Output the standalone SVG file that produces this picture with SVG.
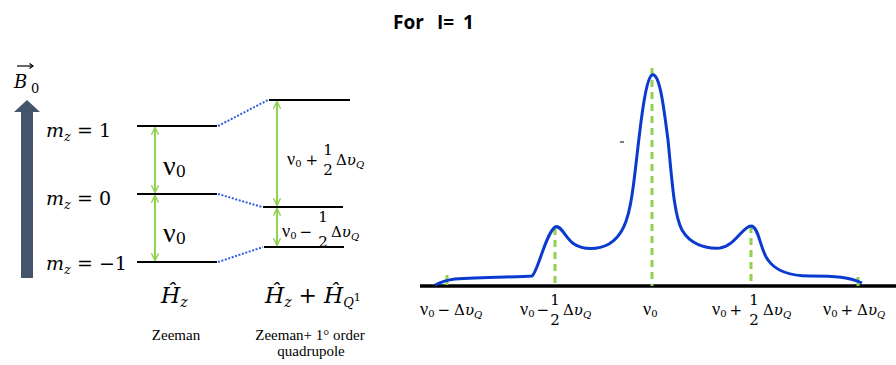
<svg xmlns="http://www.w3.org/2000/svg" width="896" height="365" viewBox="0 0 896 365">
<style>
.lvl{stroke:#000;stroke-width:2;fill:none}
.dot{stroke:#2F5FE0;stroke-width:2;stroke-dasharray:2,1.6;fill:none}
.garr{stroke:#92D050;stroke-width:2;fill:none}
.gdash{stroke:#92D050;stroke-width:3;stroke-dasharray:7,5;fill:none}
.math{font-family:"DejaVu Serif","Liberation Serif",serif;fill:#000}
.it{font-style:italic}
.lab{font-family:"DejaVu Serif","Liberation Serif",serif;font-size:15px;fill:#000}
.nu{font-family:"Liberation Serif","DejaVu Serif",serif;font-size:18px}
.cap{font-family:"Liberation Serif","DejaVu Serif",serif;font-size:15px;fill:#000}
</style>
<defs>
<marker id="chev" viewBox="0 0 10 10" refX="9" refY="5" markerWidth="9" markerHeight="9" markerUnits="userSpaceOnUse" orient="auto-start-reverse">
<polyline points="1,1 9,5 1,9" fill="none" stroke="#92D050" stroke-width="1.6"/>
</marker>
</defs>

<text y="29" font-family="'Open Sans','Liberation Sans',sans-serif" font-weight="bold" font-size="19"><tspan x="393">For</tspan><tspan x="437">I=</tspan><tspan x="463">1</tspan></text>

<g id="b0-arrow">
<polygon points="21,278 21,112 14,112 27,100 40,112 33,112 33,278" fill="#44546A"/>
<text class="math it" x="14" y="88" font-size="18">B</text>
<text class="math" x="31" y="93" font-size="13">0</text>
<line x1="17" y1="66" x2="33" y2="66" stroke="#000" stroke-width="1.2"/>
<polyline points="29.5,63.5 33,66 29.5,68.5" fill="none" stroke="#000" stroke-width="1.2"/>
</g>

<g id="mz-labels">
<text class="math" x="46" y="137" font-size="19"><tspan font-style="italic">m</tspan><tspan font-style="italic" font-size="13" dy="4">z</tspan><tspan dy="-4"> = 1</tspan></text>
<text class="math" x="46" y="205" font-size="19"><tspan font-style="italic">m</tspan><tspan font-style="italic" font-size="13" dy="4">z</tspan><tspan dy="-4"> = 0</tspan></text>
<text class="math" x="46" y="270" font-size="19"><tspan font-style="italic">m</tspan><tspan font-style="italic" font-size="13" dy="4">z</tspan><tspan dy="-4"> = −1</tspan></text>
</g>

<g id="zeeman-levels">
<line class="lvl" x1="137" y1="126" x2="217" y2="126"/>
<line class="lvl" x1="137" y1="194" x2="217" y2="194"/>
<line class="lvl" x1="137" y1="262" x2="217" y2="262"/>
</g>

<g id="quad-levels">
<line class="lvl" x1="269" y1="100" x2="350" y2="100"/>
<line class="lvl" x1="263" y1="207" x2="343" y2="207"/>
<line class="lvl" x1="264" y1="247" x2="344" y2="247"/>
</g>

<g id="connectors">
<line class="dot" x1="218" y1="126" x2="268" y2="100"/>
<line class="dot" x1="218" y1="194" x2="262" y2="207"/>
<line class="dot" x1="218" y1="262" x2="263" y2="247"/>
<line class="garr" x1="155" y1="127.5" x2="155" y2="192.5" marker-start="url(#chev)" marker-end="url(#chev)"/>
<line class="garr" x1="155" y1="195.5" x2="155" y2="260.5" marker-start="url(#chev)" marker-end="url(#chev)"/>
<line class="garr" x1="277" y1="101.5" x2="277" y2="205.5" marker-start="url(#chev)" marker-end="url(#chev)"/>
<line class="garr" x1="277" y1="208.5" x2="277" y2="245.5" marker-start="url(#chev)" marker-end="url(#chev)"/>
</g>

<g id="nu-left">
<text class="math" x="163" y="175"><tspan font-family="Liberation Serif, serif" font-size="28">ν</tspan><tspan font-size="16" dy="2">0</tspan></text>
<text class="math" x="163" y="242"><tspan font-family="Liberation Serif, serif" font-size="28">ν</tspan><tspan font-size="16" dy="2">0</tspan></text>
</g>

<g id="label-plus-half">
<text class="lab" x="287" y="165"><tspan class="nu">ν</tspan><tspan font-size="10" dy="2">0</tspan><tspan dy="-2" dx="4">+</tspan></text>
<text class="lab" x="328" y="155" text-anchor="middle">1</text>
<text class="lab" x="328" y="175" text-anchor="middle">2</text>
<text class="lab" x="336" y="165">Δ<tspan font-style="italic">υ</tspan><tspan font-style="italic" font-size="10" dy="3">Q</tspan></text>
</g>

<g id="label-minus-half">
<text class="lab" x="282" y="237"><tspan class="nu">ν</tspan><tspan font-size="10" dy="2">0</tspan><tspan dy="-2" dx="3">−</tspan></text>
<text class="lab" x="323" y="222" text-anchor="middle">1</text>
<text class="lab" x="323" y="247" text-anchor="middle">2</text>
<text class="lab" x="331" y="237">Δ<tspan font-style="italic">υ</tspan><tspan font-style="italic" font-size="10" dy="3">Q</tspan></text>
</g>

<g id="hamiltonians">
<text class="math it" x="161" y="303" font-size="22">Ĥ<tspan font-size="14" dy="4">z</tspan></text>
<text class="math" x="265" y="303" font-size="22"><tspan font-style="italic">Ĥ</tspan><tspan font-style="italic" font-size="14" dy="4">z</tspan><tspan dy="-4"> + </tspan><tspan font-style="italic">Ĥ</tspan><tspan font-style="italic" font-size="13" dy="4">Q</tspan><tspan font-size="11" dy="-6">1</tspan></text>
<text class="cap" x="176" y="340" text-anchor="middle">Zeeman</text>
<text class="cap" x="310" y="340" text-anchor="middle">Zeeman+ 1° order</text>
<text class="cap" x="311" y="356" text-anchor="middle">quadrupole</text>
</g>

<g id="spectrum">
<line x1="420" y1="286" x2="896" y2="286" stroke="#000" stroke-width="3.5"/>
<line class="gdash" x1="555" y1="228" x2="555" y2="286"/>
<line class="gdash" x1="652" y1="68" x2="652" y2="286"/>
<line class="gdash" x1="751" y1="226" x2="751" y2="286"/>
<line x1="447" y1="275" x2="447" y2="285" stroke="#92D050" stroke-width="3"/>
<line x1="858" y1="277" x2="858" y2="286" stroke="#92D050" stroke-width="3"/>
<path d="M435,285 C441,282 447,280 455,279 C480,277 520,277 532,276 C538,272 545,235 555,227 C561,224 565,238 574,244 C583,250 598,250 609,244 C622,236 628,222 632,195 C637,165 643,80 652,75 C660,72 664,110 668,140 C672,180 674,215 682,230 C690,244 705,249 720,248 C735,246 743,226 751,226 C759,226 760,250 768,260 C775,270 790,276 810,276 C835,276 850,277 862,283" fill="none" stroke="#0A3ACF" stroke-width="3"/>
<line x1="620" y1="142" x2="624" y2="142" stroke="#000" stroke-width="1"/>
</g>

<g id="axis-labels">
<text class="lab" x="420" y="315"><tspan class="nu">ν</tspan><tspan font-size="10" dy="2">0</tspan><tspan dy="-2" dx="3">−</tspan><tspan dx="4">Δ</tspan><tspan font-style="italic">υ</tspan><tspan font-style="italic" font-size="10" dy="3">Q</tspan></text>
<text class="lab" x="520" y="315"><tspan class="nu">ν</tspan><tspan font-size="10" dy="2">0</tspan><tspan dy="-2" dx="2">−</tspan></text>
<text class="lab" x="555" y="305" text-anchor="middle">1</text>
<text class="lab" x="555" y="325" text-anchor="middle">2</text>
<text class="lab" x="563" y="315">Δ<tspan font-style="italic">υ</tspan><tspan font-style="italic" font-size="10" dy="3">Q</tspan></text>
<text class="lab" x="643" y="315"><tspan class="nu">ν</tspan><tspan font-size="10" dy="2">0</tspan></text>
<text class="lab" x="712" y="315"><tspan class="nu">ν</tspan><tspan font-size="10" dy="2">0</tspan><tspan dy="-2" dx="3">+</tspan></text>
<text class="lab" x="754" y="305" text-anchor="middle">1</text>
<text class="lab" x="754" y="325" text-anchor="middle">2</text>
<text class="lab" x="763" y="315">Δ<tspan font-style="italic">υ</tspan><tspan font-style="italic" font-size="10" dy="3">Q</tspan></text>
<text class="lab" x="823" y="315"><tspan class="nu">ν</tspan><tspan font-size="10" dy="2">0</tspan><tspan dy="-2" dx="3">+</tspan><tspan dx="4">Δ</tspan><tspan font-style="italic">υ</tspan><tspan font-style="italic" font-size="10" dy="3">Q</tspan></text>
</g>
</svg>
